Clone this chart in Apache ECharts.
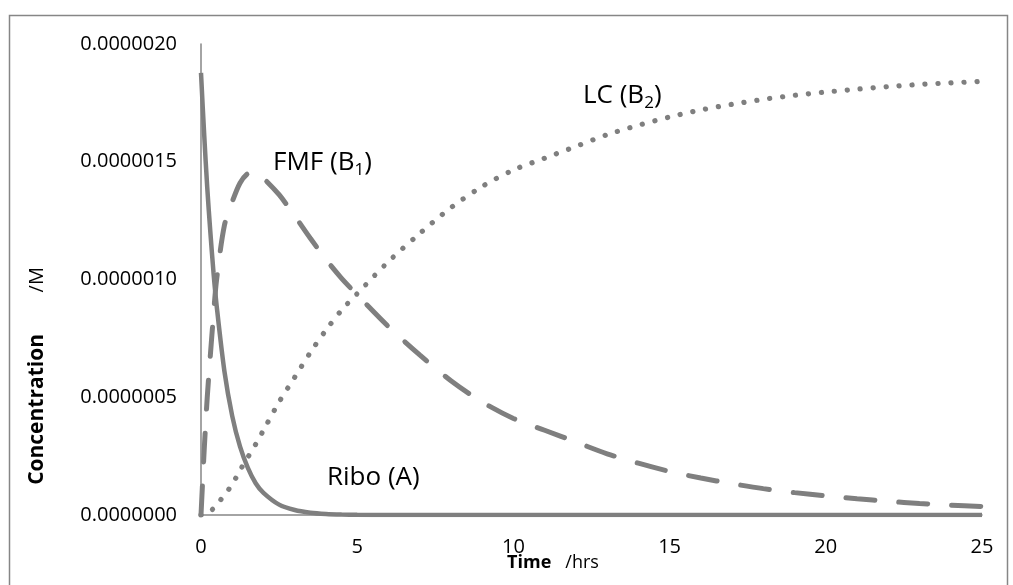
<!DOCTYPE html>
<html>
<head>
<meta charset="utf-8">
<script src="https://cdn.jsdelivr.net/npm/echarts@6/dist/echarts.min.js"></script>
<style>
  html, body { margin: 0; padding: 0; background: #fff; }
  #root { width: 1013px; height: 585px; }
</style>
</head>
<body>
<div id="root"></div>
<script>
// time in hours, concentrations in micromolar
const time = [0, 0.1, 0.2, 0.3, 0.4, 0.5, 0.75, 1, 1.25, 1.5, 1.75, 2, 2.5, 3, 3.5, 4, 4.5, 5,
  6, 7, 8, 9, 10, 11, 12, 13, 14, 15, 16, 17, 18, 19, 20, 21, 22, 23, 24, 25]

const ribo = [1.877, 1.62, 1.39, 1.20, 1.03, 0.89, 0.61, 0.42, 0.29, 0.20, 0.135, 0.094, 0.044, 0.021, 0.010, 0.0047, 0.0022, 0.001,
  0.0002, 0, 0, 0, 0, 0, 0, 0, 0, 0, 0, 0, 0, 0, 0, 0, 0, 0, 0, 0]

const fmf = [0, 0.27, 0.50, 0.68, 0.85, 1.0, 1.23, 1.33, 1.41, 1.45, 1.455, 1.43, 1.36, 1.27, 1.175, 1.085, 1.005, 0.935,
  0.80, 0.68, 0.57, 0.48, 0.41, 0.36, 0.31, 0.26, 0.22, 0.185, 0.157, 0.133, 0.112, 0.095, 0.081, 0.069, 0.058, 0.049, 0.042, 0.036]

const lc = [0, 0.002, 0.007, 0.016, 0.028, 0.043, 0.085, 0.13, 0.19, 0.245, 0.30, 0.36, 0.48, 0.585, 0.69, 0.785, 0.87, 0.94,
  1.076, 1.195, 1.305, 1.395, 1.465, 1.515, 1.565, 1.615, 1.655, 1.69, 1.72, 1.744, 1.765, 1.782, 1.796, 1.808, 1.819, 1.828, 1.835, 1.841]

const xTicks = { min: 0, max: 25, interval: 5 }
const yTicks = { min: 0, max: 0.000002, interval: 0.0000005 }

const toPairs = (vals) => time.map((t, i) => [t, vals[i] * 1e-6])

const grey = '#7f7f7f'
const axisGrey = '#868686'
const font = 'Open Sans'

const chart = echarts.init(document.getElementById('root'), null, { renderer: 'canvas' })

const seriesLabel = (text, x, y) => ({
  type: 'text',
  x: x,
  y: y,
  style: {
    text: text,
    fill: '#000',
    font: '26px "Open Sans"',
    verticalAlign: 'middle',
    rich: {
      m: { fontSize: 26, fontFamily: font, lineHeight: 32 },
      s: { fontSize: 17, fontFamily: font, lineHeight: 32, verticalAlign: 'bottom', padding: [12, 0, 0, 0] }
    }
  }
})

const option = {
  animation: false,
  backgroundColor: '#fff',
  grid: { left: 201, right: 31, top: 44, bottom: 70, containLabel: false },
  xAxis: {
    type: 'value',
    min: xTicks.min,
    max: xTicks.max,
    interval: xTicks.interval,
    splitLine: { show: false },
    axisTick: { show: false },
    axisLine: { show: true, lineStyle: { color: axisGrey, width: 1.5 } },
    axisLabel: { color: '#000', fontFamily: font, fontSize: 20, margin: 22 }
  },
  yAxis: {
    type: 'value',
    min: yTicks.min,
    max: yTicks.max,
    interval: yTicks.interval,
    splitLine: { show: false },
    axisTick: { show: false },
    axisLine: { show: true, lineStyle: { color: axisGrey, width: 1.5 } },
    axisLabel: {
      color: '#000', fontFamily: font, fontSize: 20, margin: 24,
      formatter: (v) => v.toFixed(7)
    }
  },
  series: [{
    name: 'LC (B2)',
    type: 'line',
    data: toPairs(lc),
    showSymbol: false,
    smooth: 0.3,
    lineStyle: { color: grey, width: 5.2, type: [0.1, 12.9], cap: 'round' }
  }, {
    name: 'FMF (B1)',
    type: 'line',
    data: toPairs(fmf),
    showSymbol: false,
    smooth: 0.3,
    lineStyle: { color: grey, width: 5, type: [29, 24], cap: 'round' }
  }, {
    name: 'Ribo (A)',
    type: 'line',
    data: toPairs(ribo),
    showSymbol: false,
    smooth: 0.3,
    lineStyle: { color: grey, width: 4.5, type: 'solid' }
  }],
  graphic: [
    {
      type: 'rect',
      shape: { x: 9.5, y: 15.5, width: 998, height: 620 },
      style: { fill: 'none', stroke: axisGrey, lineWidth: 1.5 },
      silent: true
    },
    seriesLabel('{m|FMF (B}{s|1}{m|)}', 273, 163),
    seriesLabel('{m|LC (B}{s|2}{m|)}', 583, 96),
    seriesLabel('{m|Ribo (A)}', 327, 478),
    {
      type: 'text',
      x: 553,
      y: 563,
      style: {
        text: '{b|Time}   /hrs',
        fill: '#000',
        font: '18px "Open Sans"',
        align: 'center',
        verticalAlign: 'middle',
        rich: { b: { fontWeight: 'bold', fontSize: 18, fontFamily: font } }
      }
    },
    {
      type: 'text',
      x: 37,
      y: 376,
      rotation: Math.PI / 2,
      style: {
        text: '{b|Concentration}        /M',
        fill: '#000',
        font: '20px "Open Sans"',
        align: 'center',
        verticalAlign: 'middle',
        rich: { b: { fontWeight: 'bold', fontSize: 21, fontFamily: font } }
      }
    }
  ]
}

chart.setOption(option)
</script>
</body>
</html>
